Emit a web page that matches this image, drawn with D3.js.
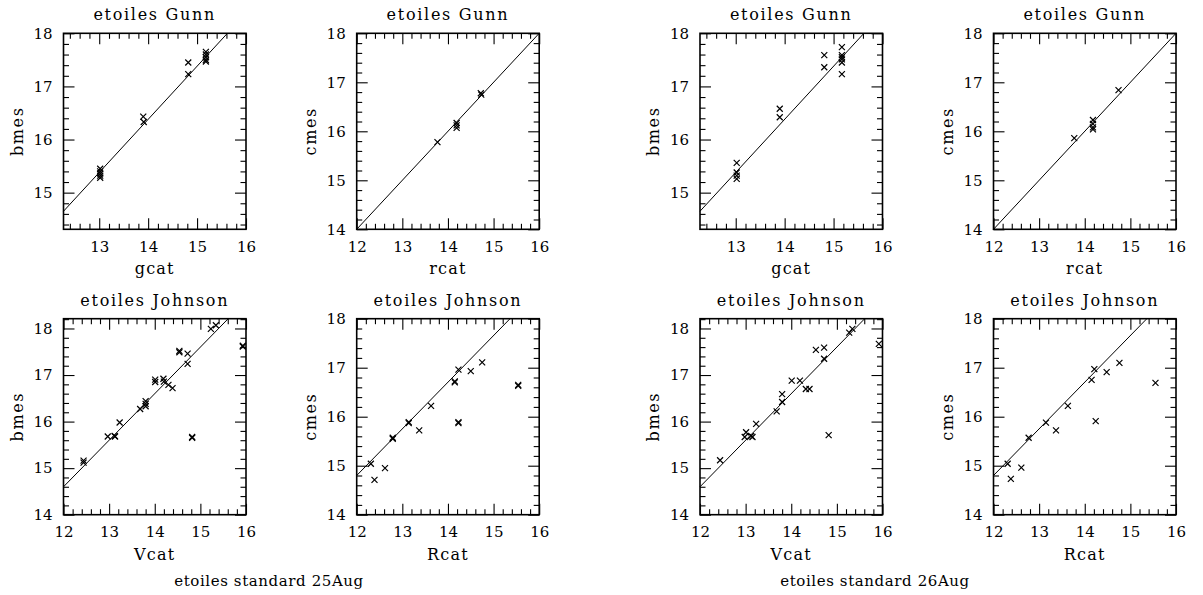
<!DOCTYPE html>
<html>
<head>
<meta charset="utf-8">
<script src="https://cdn.jsdelivr.net/npm/d3@7"></script>
<style>
  html, body { margin: 0; padding: 0; background: #fff; }
  svg { display: block; }
  text { font-family: "DejaVu Serif", serif; fill: #000; }
</style>
</head>
<body>
<script>
// ---------------- data ----------------
// Panel 1: 25Aug, Gunn, gcat vs bmes
const p1x = [13.02,13.02,13.02,13.02,13.02,13.90,13.91,14.82,14.82,15.18,15.18,15.18,15.18,15.18];
const p1y = [15.45,15.40,15.36,15.32,15.28,16.43,16.33,17.45,17.23,17.65,17.60,17.55,17.50,17.47];
// Panel 2: 25Aug, Gunn, rcat vs cmes
const p2x = [13.77,14.19,14.19,14.19,14.72,14.73];
const p2y = [15.78,16.17,16.12,16.07,16.78,16.75];
// Panel 3: 26Aug, Gunn, gcat vs bmes
const p3x = [13.02,13.02,13.02,13.02,13.90,13.90,14.81,14.81,15.17,15.17,15.17,15.17,15.17,15.17];
const p3y = [15.56,15.38,15.32,15.26,16.58,16.42,17.59,17.36,17.74,17.59,17.55,17.51,17.45,17.23];
// Panel 4: 26Aug, Gunn, rcat vs cmes
const p4x = [13.77,14.18,14.18,14.18,14.18,14.74];
const p4y = [15.86,16.23,16.15,16.08,16.04,16.84];
// Panel 5: 25Aug, Johnson, Vcat vs bmes
const p5x = [12.44,12.44,12.97,13.12,13.13,13.23,13.68,13.80,13.80,13.80,14.01,14.01,14.19,14.20,14.30,14.39,14.54,14.54,14.72,14.72,14.82,14.82,15.23,15.34,15.93,15.93];
const p5y = [15.16,15.12,15.68,15.69,15.68,15.98,16.27,16.44,16.38,16.33,16.90,16.85,16.92,16.86,16.79,16.72,17.52,17.49,17.46,17.24,15.67,15.65,17.99,18.07,17.63,17.61];
// Panel 6: 25Aug, Johnson, Rcat vs cmes
const p6x = [12.31,12.39,12.62,12.79,12.79,13.14,13.14,13.37,13.63,14.15,14.15,14.23,14.23,14.23,14.50,14.75,15.54,15.54];
const p6y = [15.04,14.71,14.95,15.57,15.55,15.89,15.87,15.72,16.22,16.72,16.70,16.96,15.89,15.87,16.93,17.11,16.65,16.63];
// Panel 7: 26Aug, Johnson, Vcat vs bmes
const p7x = [12.44,12.98,13.01,13.12,13.15,13.23,13.68,13.80,13.80,14.01,14.19,14.32,14.40,14.54,14.72,14.72,14.82,15.27,15.34,15.92];
const p7y = [15.17,15.67,15.77,15.69,15.67,15.95,16.22,16.59,16.42,16.88,16.88,16.70,16.70,17.54,17.59,17.35,15.71,17.91,17.99,17.67];
// Panel 8: 26Aug, Johnson, Rcat vs cmes
const p8x = [12.31,12.38,12.61,12.77,13.15,13.37,13.63,14.15,14.21,14.24,14.48,14.76,15.55];
const p8y = [15.04,14.73,14.96,15.57,15.88,15.72,16.22,16.75,16.97,15.91,16.91,17.10,16.69];

// fitted lines: [slope, intercept] per panel
const fitLines = [[1,2.38],[1,2.0],[1,2.38],[1,2.0],[1,2.6],[0.952,3.376],[1,2.6],[0.952,3.376]];
// axis domains per panel
const xDomains = [[12.27,16],[12,16],[12.27,16],[12,16],[12,16],[12,16],[12,16],[12,16]];
const yDomains = [[14.31,18],[14,18],[14.31,18],[14,18],[14,18.21],[14,18],[14,18.21],[14,18]];
const titles = ["etoiles Gunn","etoiles Gunn","etoiles Gunn","etoiles Gunn",
                "etoiles Johnson","etoiles Johnson","etoiles Johnson","etoiles Johnson"];
const xLabels = ["gcat","rcat","gcat","rcat","Vcat","Rcat","Vcat","Rcat"];
const yLabels = ["bmes","cmes","bmes","cmes","bmes","cmes","bmes","cmes"];
const captions = ["etoiles standard 25Aug","etoiles standard 26Aug"];

const xsAll = [p1x,p2x,p3x,p4x,p5x,p6x,p7x,p8x];
const ysAll = [p1y,p2y,p3y,p4y,p5y,p6y,p7y,p8y];

// ---------------- layout ----------------
const W = 1203, H = 595;
const colLeft = [63.5, 356.7, 700, 993.5];
const rowTop = [33.3, 318.7];
const pw = 182.5, ph = 196;

const svg = d3.select("body").append("svg").attr("width", W).attr("height", H);

function niceRange(a, b, step) {
  const out = [];
  const s = Math.ceil(a / step - 1e-6), e = Math.floor(b / step + 1e-6);
  for (let i = s; i <= e; i++) out.push(+(i * step).toFixed(4));
  return out;
}

for (let i = 0; i < 8; i++) {
  const col = i % 4, row = Math.floor(i / 4);
  const left = colLeft[col], top = rowTop[row];
  const g = svg.append("g").attr("transform", `translate(${left},${top})`);
  const x = d3.scaleLinear().domain(xDomains[i]).range([0, pw]);
  const y = d3.scaleLinear().domain(yDomains[i]).range([ph, 0]);

  const xMaj = niceRange(xDomains[i][0], xDomains[i][1], 1);
  const yMaj = niceRange(yDomains[i][0], yDomains[i][1], 1);
  const xMin = niceRange(xDomains[i][0], xDomains[i][1], 0.2).filter(v => Math.abs(v - Math.round(v)) > 1e-6);
  const yMin = niceRange(yDomains[i][0], yDomains[i][1], 0.2).filter(v => Math.abs(v - Math.round(v)) > 1e-6);

  function styleAxis(sel) {
    sel.select(".domain").remove();
    sel.selectAll("line").attr("stroke", "#000").attr("stroke-width", 1.1);
    sel.attr("font-family", null).attr("font-size", null);
    sel.selectAll("text").style("font-size", "15px").attr("fill", "#000");
  }
  // major ticks with labels
  g.append("g").attr("transform", `translate(0,${ph})`)
    .call(d3.axisBottom(x).tickValues(xMaj).tickSize(-11).tickSizeOuter(0).tickPadding(12).tickFormat(d3.format("d")))
    .call(styleAxis);
  g.append("g")
    .call(d3.axisLeft(y).tickValues(yMaj).tickSize(-11).tickSizeOuter(0).tickPadding(11).tickFormat(d3.format("d")))
    .call(styleAxis);
  g.append("g")
    .call(d3.axisTop(x).tickValues(xMaj).tickSize(-11).tickSizeOuter(0).tickFormat(""))
    .call(styleAxis);
  g.append("g").attr("transform", `translate(${pw},0)`)
    .call(d3.axisRight(y).tickValues(yMaj).tickSize(-11).tickSizeOuter(0).tickFormat(""))
    .call(styleAxis);
  // minor ticks
  g.append("g").attr("transform", `translate(0,${ph})`)
    .call(d3.axisBottom(x).tickValues(xMin).tickSize(-5.5).tickSizeOuter(0).tickFormat("")).call(styleAxis);
  g.append("g")
    .call(d3.axisTop(x).tickValues(xMin).tickSize(-5.5).tickSizeOuter(0).tickFormat("")).call(styleAxis);
  g.append("g")
    .call(d3.axisLeft(y).tickValues(yMin).tickSize(-5.5).tickSizeOuter(0).tickFormat("")).call(styleAxis);
  g.append("g").attr("transform", `translate(${pw},0)`)
    .call(d3.axisRight(y).tickValues(yMin).tickSize(-5.5).tickSizeOuter(0).tickFormat("")).call(styleAxis);

  // frame
  g.append("rect").attr("x", 0).attr("y", 0).attr("width", pw).attr("height", ph)
    .attr("fill", "none").attr("stroke", "#000").attr("stroke-width", 1.6);

  // fitted line clipped to domain
  const [m, c] = fitLines[i];
  const [x0, x1] = xDomains[i], [y0, y1] = yDomains[i];
  let xa = Math.max(x0, (y0 - c) / m), xb = Math.min(x1, (y1 - c) / m);
  g.append("line")
    .attr("x1", x(xa)).attr("y1", y(m * xa + c))
    .attr("x2", x(xb)).attr("y2", y(m * xb + c))
    .attr("stroke", "#000").attr("stroke-width", 1);

  // crosses
  const pts = d3.zip(xsAll[i], ysAll[i]);
  const s = 3;
  g.append("g").selectAll("path").data(pts).join("path")
    .attr("d", d => {
      const px = x(d[0]), py = y(d[1]);
      return `M${px - s},${py - s}L${px + s},${py + s}M${px - s},${py + s}L${px + s},${py - s}`;
    })
    .attr("stroke", "#000").attr("stroke-width", 1.2).attr("fill", "none");

  // texts
  g.append("text").attr("x", pw / 2).attr("y", -13).attr("text-anchor", "middle")
    .style("font-size", "16px").style("letter-spacing", "1.7px").text(titles[i]);
  g.append("text").attr("x", pw / 2).attr("y", ph + 45).attr("text-anchor", "middle")
    .style("font-size", "16px").style("letter-spacing", "1.2px").text(xLabels[i]);
  g.append("text").attr("transform", `translate(-41,${ph / 2}) rotate(-90)`).attr("text-anchor", "middle")
    .style("font-size", "16px").style("letter-spacing", "1.6px").text(yLabels[i]);
}

const capX = [269, 875];
captions.forEach((t, k) => {
  svg.append("text").attr("x", capX[k]).attr("y", 586).attr("text-anchor", "middle")
    .style("font-size", "15px").style("letter-spacing", "0.6px").text(t);
});
</script>
</body>
</html>
